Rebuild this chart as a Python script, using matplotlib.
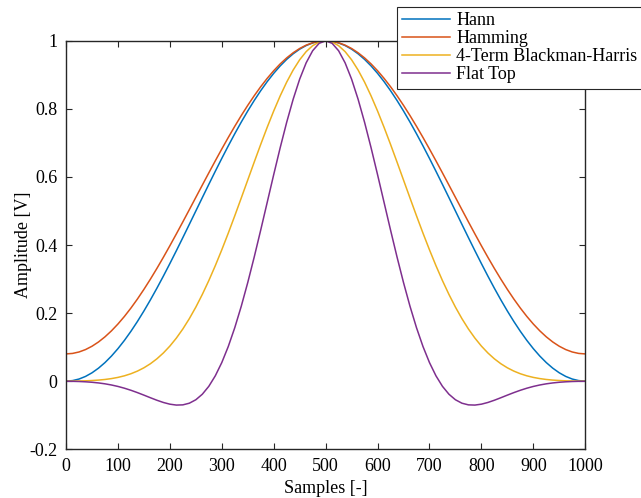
import numpy as np
import matplotlib.pyplot as plt

plt.rcParams['font.family'] = ['Liberation Serif', 'DejaVu Serif']
plt.rcParams['font.size'] = 13

# samples 0..500 in steps of 12.5 (right half is the mirror image)
half = np.arange(0, 512.5, 12.5)
hann_half = [0.0, 0.00154, 0.00616, 0.01381, 0.02447, 0.03806, 0.05450, 0.07368,
             0.09549, 0.11979, 0.14645, 0.17527, 0.20611, 0.23875, 0.27300, 0.30866,
             0.34549, 0.38327, 0.42178, 0.46077, 0.5, 0.53923, 0.57822, 0.61673,
             0.65451, 0.69134, 0.72700, 0.76125, 0.79389, 0.82473, 0.85355, 0.88021,
             0.90451, 0.92632, 0.94550, 0.96194, 0.97553, 0.98619, 0.99384, 0.99846, 1.0]
hamming_half = [0.08, 0.08142, 0.08566, 0.09271, 0.10251, 0.11502, 0.13014, 0.14779,
                0.16785, 0.19021, 0.21473, 0.24125, 0.26962, 0.29965, 0.33116, 0.36397,
                0.39785, 0.43261, 0.46804, 0.50391, 0.54, 0.57609, 0.61196, 0.64739,
                0.68215, 0.71603, 0.74884, 0.78035, 0.81038, 0.83875, 0.86527, 0.88979,
                0.91215, 0.93221, 0.94986, 0.96498, 0.97749, 0.98729, 0.99434, 0.99858, 1.0]
bh_half = [0.00006, 0.00014, 0.00043, 0.00095, 0.00179, 0.00306, 0.00489, 0.00747,
           0.01098, 0.01565, 0.02174, 0.02949, 0.03919, 0.05112, 0.06557, 0.08278,
           0.10301, 0.12647, 0.15330, 0.18363, 0.21747, 0.25479, 0.29546, 0.33927,
           0.38589, 0.43492, 0.48585, 0.53810, 0.59099, 0.64381, 0.69576, 0.74605,
           0.79384, 0.83831, 0.87869, 0.91424, 0.94431, 0.96831, 0.98581, 0.99644, 1.0]
flat_half = [-0.00042, -0.00058, -0.00108, -0.00196, -0.00333, -0.00527, -0.00789,
             -0.01132, -0.01559, -0.02080, -0.02687, -0.03372, -0.04112, -0.04875,
             -0.05614, -0.06269, -0.06771, -0.07035, -0.06972, -0.06484, -0.05473,
             -0.03848, -0.01526, 0.01561, 0.05455, 0.10175, 0.15706, 0.21999, 0.28968,
             0.36492, 0.44413, 0.52548, 0.60687, 0.68604, 0.76069, 0.82853, 0.88741,
             0.93538, 0.97086, 0.99266, 1.0]

def mirror(v):
    v = list(v)
    return v + v[-2::-1]

x = np.concatenate([half, 1000 - half[-2::-1]])
series = [
    ("Hann", mirror(hann_half), "#0072BD"),
    ("Hamming", mirror(hamming_half), "#D95319"),
    ("4-Term Blackman-Harris", mirror(bh_half), "#EDB120"),
    ("Flat Top", mirror(flat_half), "#7E2F8E"),
]

fig = plt.figure(figsize=(6.41, 4.98), dpi=100)
ax = fig.add_axes([0.103, 0.098, 0.810, 0.820])
for name, y, c in series:
    ax.plot(x, y, color=c, lw=1.1, label=name)

ax.set_xlim(0, 1000)
ax.set_ylim(-0.2, 1)
ax.set_xticks(np.arange(0, 1001, 100))
ax.set_yticks(np.arange(-0.2, 1.01, 0.2))
ax.set_yticklabels(["-0.2", "0", "0.2", "0.4", "0.6", "0.8", "1"])
ax.set_xlabel("Samples [-]", labelpad=4)
ax.set_ylabel("Amplitude [V]", labelpad=-1.5)
ax.tick_params(direction='in', top=True, right=True, length=4, width=0.8,
               colors='#262626', labelcolor='black', pad=6)
for s in ax.spines.values():
    s.set_linewidth(1.0)
    s.set_color('#262626')

leg = fig.legend(loc='upper left', bbox_to_anchor=(0.619, 0.986), frameon=True,
                 fancybox=False, edgecolor='#262626', framealpha=1,
                 handlelength=2.65, handletextpad=0.35, labelspacing=0.05,
                 borderpad=0.3, borderaxespad=0)
leg.get_frame().set_linewidth(0.8)

fig.savefig("out.png", dpi=100)
